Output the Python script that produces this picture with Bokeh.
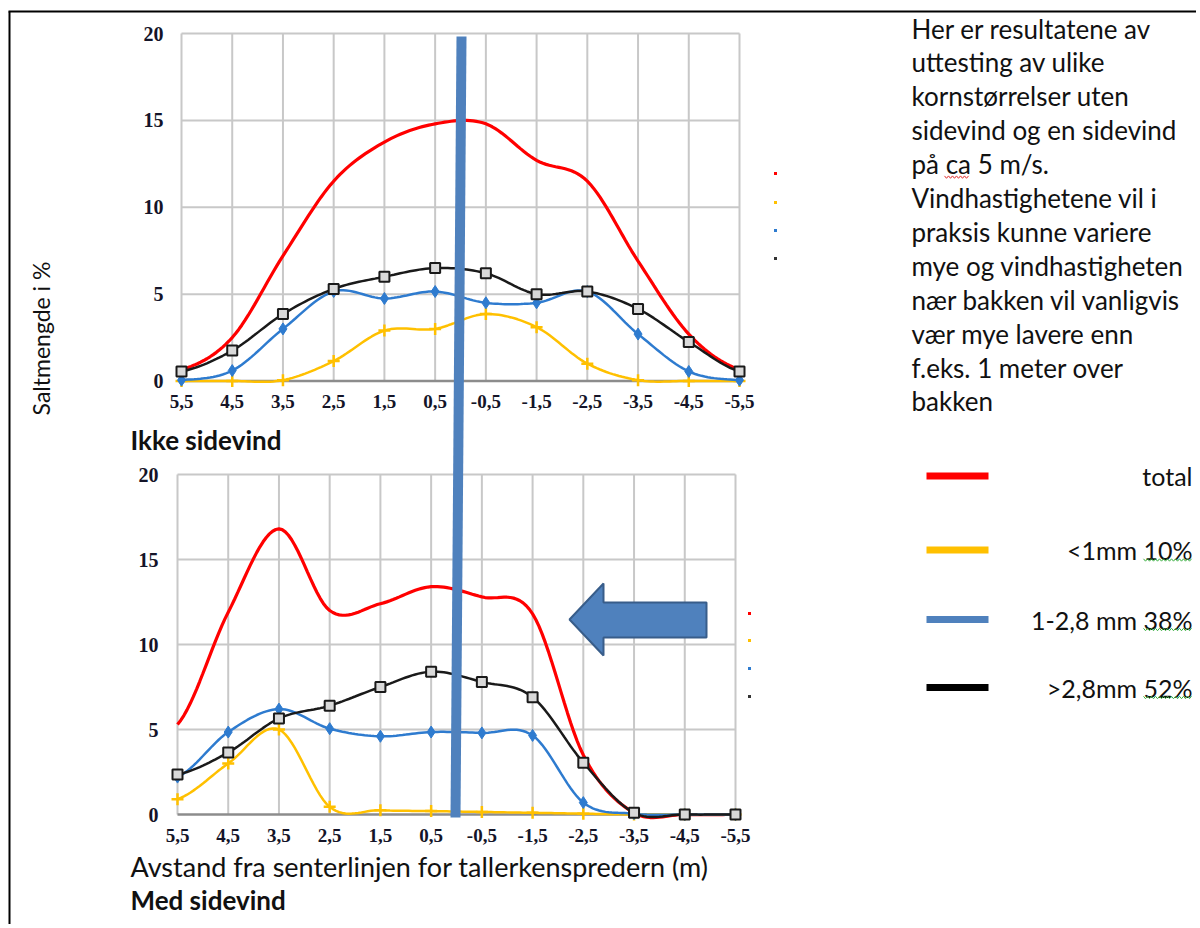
import numpy as np
from bokeh.plotting import figure
from bokeh.models import Range1d
from bokeh.core.properties import value
from bokeh.embed import file_html
from bokeh.resources import INLINE

# ---------------- data ----------------
categories = ["5,5", "4,5", "3,5", "2,5", "1,5", "0,5", "-0,5", "-1,5", "-2,5", "-3,5", "-4,5", "-5,5"]
y_ticks = [0, 5, 10, 15, 20]

# Ikke sidevind (no side wind)
top_total = [0.65, 2.5, 7.2, 11.5, 13.75, 14.8, 14.8, 12.7, 11.5, 6.9, 2.7, 0.65]
top_small = [0.0, 0.0, 0.05, 1.15, 2.9, 3.0, 3.85, 3.1, 1.0, 0.05, 0.0, 0.0]
top_mid = [0.05, 0.6, 3.0, 5.15, 4.75, 5.15, 4.5, 4.5, 5.15, 2.7, 0.55, 0.05]
top_large = [0.55, 1.75, 3.85, 5.3, 6.0, 6.5, 6.2, 5.0, 5.15, 4.15, 2.25, 0.55]

# Med sidevind (with side wind)
bot_total = [5.3, 11.9, 16.8, 12.0, 12.4, 13.4, 12.8, 11.8, 3.5, 0.1, 0.0, 0.0]
bot_small = [0.9, 3.0, 5.0, 0.45, 0.25, 0.2, 0.15, 0.1, 0.05, 0.0, 0.0, 0.0]
bot_mid = [2.2, 4.85, 6.2, 5.05, 4.6, 4.85, 4.8, 4.65, 0.7, 0.05, 0.0, 0.0]
bot_large = [2.35, 3.65, 5.65, 6.4, 7.5, 8.4, 7.8, 6.9, 3.05, 0.1, 0.0, 0.0]

series_names = ["total", "<1mm 10%", "1-2,8 mm 38%", ">2,8mm 52%"]

note_lines = [
    "Her er resultatene av",
    "uttesting av ulike",
    "kornstørrelser uten",
    "sidevind og en sidevind",
    "på ca 5 m/s.",
    "Vindhastighetene vil i",
    "praksis kunne variere",
    "mye og vindhastigheten",
    "nær bakken vil vanligvis",
    "vær mye lavere enn",
    "f.eks. 1 meter over",
    "bakken",
]

# ---------------- styling ----------------
RED, YELLOW, BLUE, BLACK = "#ff0000", "#ffc000", "#2e7bcf", "#1a1a1a"
BAR_BLUE, BAR_EDGE = "#4f81bd", "#385d8a"
GRID = "#c8c8c8"
TXT_FONT = value("Lato")
TICK_FONT = value("Liberation Serif")

W, H = 1196, 924
PX0, PX1, PY0, PY1 = 0, W, 0, H   # frame in screenshot pixels


def span(v0, p0, v1, p1, lo, hi):
    k = (v1 - v0) / (p1 - p0)
    return Range1d(start=v0 + (lo - p0) * k, end=v0 + (hi - p0) * k)


p = figure(width=W, height=H, x_range=Range1d(PX0, PX1), y_range=Range1d(PY1, PY0),
           x_axis_type=None, y_axis_type=None, output_backend="svg",
           toolbar_location=None, min_border=0)
p.grid.visible = False
p.outline_line_color = None
p.background_fill_color = "white"

# chart placement (pixels)
charts = {
    "t": dict(x0=181, x1=739, y0=380.5, y20=33, data=[top_total, top_small, top_mid, top_large],
              legend_x=775, legend_y=[173, 202, 230, 258], xoff=20, yoff=-18),
    "b": dict(x0=177, x1=735, y0=814, y20=474, data=[bot_total, bot_small, bot_mid, bot_large],
              legend_x=749, legend_y=[613, 640, 668, 696], xoff=21, yoff=-19),
}
n = len(categories)
idx = list(range(n))
p.extra_x_ranges = {("x" + k): span(0, c["x0"], n - 1, c["x1"], PX0, PX1) for k, c in charts.items()}
p.extra_y_ranges = {("y" + k): span(0, c["y0"], 20, c["y20"], PY1, PY0) for k, c in charts.items()}


def smooth(vals, steps=16):
    """Catmull-Rom rendering of a series (Excel-like smoothed line)."""
    v = np.asarray(vals, float)
    ext = np.concatenate([[v[0]], v, [v[-1]]])
    xs, ys = [], []
    for i in range(len(v) - 1):
        p0, p1, p2, p3 = ext[i], ext[i + 1], ext[i + 2], ext[i + 3]
        t = np.linspace(0, 1, steps, endpoint=False)
        y = 0.5 * ((2 * p1) + (-p0 + p2) * t + (2 * p0 - 5 * p1 + 4 * p2 - p3) * t ** 2
                   + (-p0 + 3 * p1 - 3 * p2 + p3) * t ** 3)
        xs.extend(i + t)
        ys.extend(y)
    xs.append(len(v) - 1)
    ys.append(v[-1])
    return xs, ys


for k, c in charts.items():
    rx, ry = "x" + k, "y" + k
    # grid
    p.segment(x0=idx, y0=[0] * n, x1=idx, y1=[20] * n, line_color=GRID, line_width=2,
              x_range_name=rx, y_range_name=ry)
    p.segment(x0=[0] * 4, y0=y_ticks[1:], x1=[n - 1] * 4, y1=y_ticks[1:], line_color=GRID,
              line_width=2, x_range_name=rx, y_range_name=ry)
    p.segment(x0=[0], y0=[0], x1=[n - 1], y1=[0], line_color="#8c8c8c", line_width=2.5,
              x_range_name=rx, y_range_name=ry)
    # tick labels
    p.text(x=idx, y=[0] * n, text=categories, y_offset=c["xoff"],
           text_align="center", text_baseline="middle", text_font=TICK_FONT,
           text_font_style="bold", text_font_size="19px", text_color="#141428",
           x_range_name=rx, y_range_name=ry)
    p.text(x=[0] * 5, y=y_ticks, text=[str(t) for t in y_ticks], x_offset=c["yoff"],
           text_align="right", text_baseline="middle", text_font=TICK_FONT,
           text_font_style="bold", text_font_size="20px", text_color="#141428",
           x_range_name=rx, y_range_name=ry)
    total, small, mid, large = c["data"]
    # series
    sx, sy = smooth(total)
    p.line(sx, sy, line_color=RED, line_width=3.2, x_range_name=rx, y_range_name=ry)
    sx, sy = smooth(small)
    p.line(sx, sy, line_color=YELLOW, line_width=2.5, x_range_name=rx, y_range_name=ry)
    p.scatter(idx, small, marker="cross", size=12, line_color=YELLOW, line_width=2.5,
              x_range_name=rx, y_range_name=ry)
    sx, sy = smooth(mid)
    p.line(sx, sy, line_color=BLUE, line_width=2.5, x_range_name=rx, y_range_name=ry)
    p.scatter(idx, mid, marker="diamond", size=12, fill_color=BLUE, line_color=BLUE,
              x_range_name=rx, y_range_name=ry)
    sx, sy = smooth(large)
    p.line(sx, sy, line_color=BLACK, line_width=2.5, x_range_name=rx, y_range_name=ry)
    p.scatter(idx, large, marker="square", size=10, fill_color="#d9d9d9", line_color=BLACK,
              line_width=2, x_range_name=rx, y_range_name=ry)
    # clipped legend remnants
    p.scatter([c["legend_x"]] * 4, c["legend_y"], marker="square", size=3,
              fill_color=[RED, YELLOW, BLUE, "#333333"], line_color=None)

# vertical blue bar across both charts
p.patch([456, 466, 460, 450], [36, 36, 817, 817], fill_color=BAR_BLUE, line_color=None)

# block arrow pointing left
p.patch([569, 603, 603, 706, 706, 603, 603], [619, 583, 602, 602, 637, 637, 655],
        fill_color=BAR_BLUE, line_color=BAR_EDGE, line_width=2)

# frame
p.segment(x0=[8], y0=[11], x1=[PX1], y1=[11], line_color="black", line_width=2)
p.segment(x0=[9], y0=[11], x1=[9], y1=[PY1], line_color="black", line_width=2)

# titles / labels
p.text(x=[40], y=[338], text=["Saltmengde i %"], angle=np.pi / 2, text_align="center",
       text_baseline="middle", text_font=TXT_FONT, text_font_size="23px", text_color="#111111")
p.text(x=[130], y=[439], text=["Ikke sidevind"], text_font=TXT_FONT, text_font_style="bold",
       text_font_size="26px", text_baseline="middle", text_color="#111111")
p.text(x=[130], y=[866], text=["Avstand fra senterlinjen for tallerkenspredern (m)"],
       text_font=TXT_FONT, text_font_size="27px", text_baseline="middle", text_color="#111111")
p.text(x=[130], y=[899], text=["Med sidevind"], text_font=TXT_FONT, text_font_style="bold",
       text_font_size="26px", text_baseline="middle", text_color="#111111")

# note on the right
note_y = [28 + 33.9 * i for i in range(len(note_lines))]
p.text(x=[911] * len(note_lines), y=note_y,
       text=note_lines, text_font=TXT_FONT, text_font_size="26px", text_baseline="middle",
       text_color="#111111")

# legend
leg_y = [475.5, 549.5, 619, 687]
p.segment(x0=[926] * 4, y0=leg_y, x1=[988] * 4, y1=leg_y,
          line_color=[RED, YELLOW, BAR_BLUE, "black"], line_width=7)
p.text(x=[1192] * 4, y=leg_y, text=series_names, text_align="right",
       text_baseline="middle", text_font=TXT_FONT, text_font_size="25px", text_color="#111111")


# spell-check squiggles (decoration)
def squiggle(x0, x1, y, step=2.0, amp=1.2):
    xs = list(np.arange(x0, x1, step))
    ys = [y + (amp if j % 2 else -amp) for j in range(len(xs))]
    return xs, ys


sq = [squiggle(944, 970, note_y[4] + 13)] + [squiggle(1143, 1192, v + 10) for v in leg_y[1:]]
p.multi_line([s[0] for s in sq], [s[1] for s in sq],
             line_color=["#e03030", "#3cb043", "#3cb043", "#3cb043"], line_width=1)

open("out.html", "w").write(file_html(p, INLINE))
